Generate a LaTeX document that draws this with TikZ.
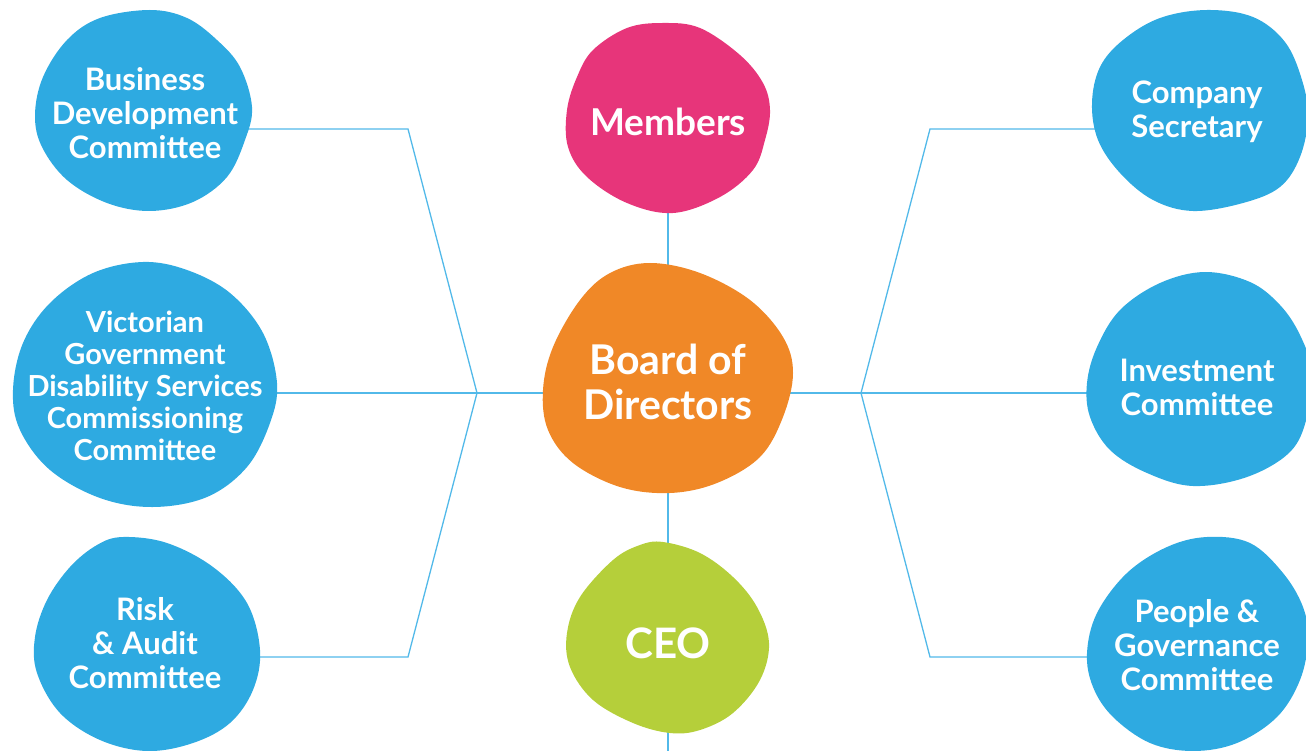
\documentclass[tikz,border=0pt]{standalone}
\usepackage{fontspec}
\setmainfont{Lato}
\usetikzlibrary{calc}
\definecolor{cblue}{HTML}{2EAAE1}
\definecolor{cpink}{HTML}{E7357A}
\definecolor{corange}{HTML}{F08827}
\definecolor{cgreen}{HTML}{B5CF3A}
\definecolor{cline}{HTML}{52B9E9}
\pgfdeclarelayer{lines}
\pgfdeclarelayer{blobs}
\pgfsetlayers{lines,blobs,main}
\tikzset{
  lbl/.style={text=white, font=\bfseries\fontsize{31}{34}\selectfont, align=center, inner sep=0pt},
  biglbl/.style={text=white, font=\bfseries\fontsize{37}{45}\selectfont, align=center, inner sep=0pt},
  conn/.style={draw=cline, line width=1.3pt},
  blob/.style={fill=#1, draw=none},
}
\begin{document}
\begin{tikzpicture}[x=1pt,y=-1pt]
\useasboundingbox (0,0) rectangle (1306,751);
\clip (0,0) rectangle (1306,751);
% text nodes
\node[lbl] (bd) at (145,113) {Business\\Development\\Committee};
\node[lbl, font=\bfseries\fontsize{29}{32}\selectfont] (vg) at (145,386) {Victorian\\Government\\Disability Services\\Commissioning\\Committee};
\node[lbl] (ra) at (145,643) {Risk\\\& Audit\\Committee};
\node[biglbl] (mem) at (668,122) {Members};
\node[biglbl, font=\bfseries\fontsize{41}{45}\selectfont] (bod) at (668,382) {Board of\\Directors};
\node[biglbl, font=\bfseries\fontsize{42}{45}\selectfont] (ceo) at (668,643) {CEO};
\node[lbl] (cs) at (1197,112) {Company\\Secretary};
\node[lbl] (inv) at (1197,387) {Investment\\Committee};
\node[lbl] (pg) at (1197,645) {People \&\\Governance\\Committee};
\coordinate (jl) at (477,393);
\coordinate (jr) at (861,393);
\coordinate (lt) at (408,129);
\coordinate (lb) at (408,657);
\coordinate (rt) at (930,129);
\coordinate (rb) at (930,657);
\coordinate (bottomend) at (668,760);
% connectors
\begin{pgfonlayer}{lines}
\draw[conn] (bd.center |- lt) -- (lt) -- (jl) -- (lb) -- (ra.center |- lb);
\draw[conn] (vg.center |- jl) -- (jl) -- (bod.center |- jl);
\draw[conn] (cs.center |- rt) -- (rt) -- (jr) -- (rb) -- (pg.center |- rb);
\draw[conn] (inv.center |- jr) -- (jr) -- (bod.center |- jr);
\draw[conn] (mem.center) -- (bod.center) -- (ceo.center) -- (bottomend);
\end{pgfonlayer}
% blobs
\begin{pgfonlayer}{blobs}
\fill[blob=cblue] plot[smooth cycle, tension=0.6] coordinates {(150,10) (187,18) (217,40) (240,67) (252,107) (245,140) (227,177) (193,202) (150,211) (107,203) (67,180) (42,147) (35,115) (43,77) (67,40) (100,18)};
\fill[blob=cblue] plot[smooth cycle, tension=0.6] coordinates {(143,262) (187,270) (230,293) (263,333) (277,383) (270,423) (247,467) (207,497) (153,507) (100,498) (50,470) (20,430) (13,390) (23,343) (50,303) (93,273)};
\fill[blob=cblue] plot[smooth cycle, tension=0.6] coordinates {(123,537) (167,543) (213,567) (247,603) (260,650) (253,690) (230,723) (193,743) (147,751) (100,740) (60,713) (37,673) (35,637) (47,600) (70,567) (97,545)};
\fill[blob=cpink] plot[smooth cycle, tension=0.6] coordinates {(663,23) (700,28) (740,55) (763,83) (770,110) (765,140) (753,170) (720,197) (673,213) (627,203) (587,177) (568,147) (567,110) (577,77) (593,50) (627,28)};
\fill[blob=corange] plot[smooth cycle, tension=0.6] coordinates {(650,263) (700,273) (750,300) (783,337) (793,373) (783,417) (760,457) (717,483) (670,493) (620,487) (573,463) (548,430) (543,390) (553,347) (580,300) (610,273)};
\fill[blob=cgreen] plot[smooth cycle, tension=0.6] coordinates {(663,542) (700,553) (733,577) (757,607) (769,643) (760,680) (733,713) (700,730) (670,733) (633,723) (593,700) (570,667) (567,633) (580,597) (613,560) (640,545)};
\fill[blob=cblue] plot[smooth cycle, tension=0.6] coordinates {(1207,10) (1253,17) (1285,42) (1302,80) (1308,117) (1300,157) (1280,187) (1243,203) (1193,211) (1153,200) (1120,173) (1098,140) (1092,103) (1100,67) (1123,40) (1160,18)};
\fill[blob=cblue] plot[smooth cycle, tension=0.6] coordinates {(1205,272) (1250,282) (1280,305) (1300,335) (1312,372) (1307,417) (1290,452) (1247,477) (1193,486) (1147,473) (1110,450) (1090,417) (1087,383) (1097,347) (1120,310) (1160,283)};
\fill[blob=cblue] plot[smooth cycle, tension=0.6] coordinates {(1207,537) (1250,543) (1283,573) (1303,607) (1308,640) (1300,680) (1277,717) (1237,743) (1193,751) (1150,743) (1113,717) (1093,687) (1087,653) (1097,613) (1127,573) (1167,547)};
\end{pgfonlayer}
\end{tikzpicture}
\end{document}
